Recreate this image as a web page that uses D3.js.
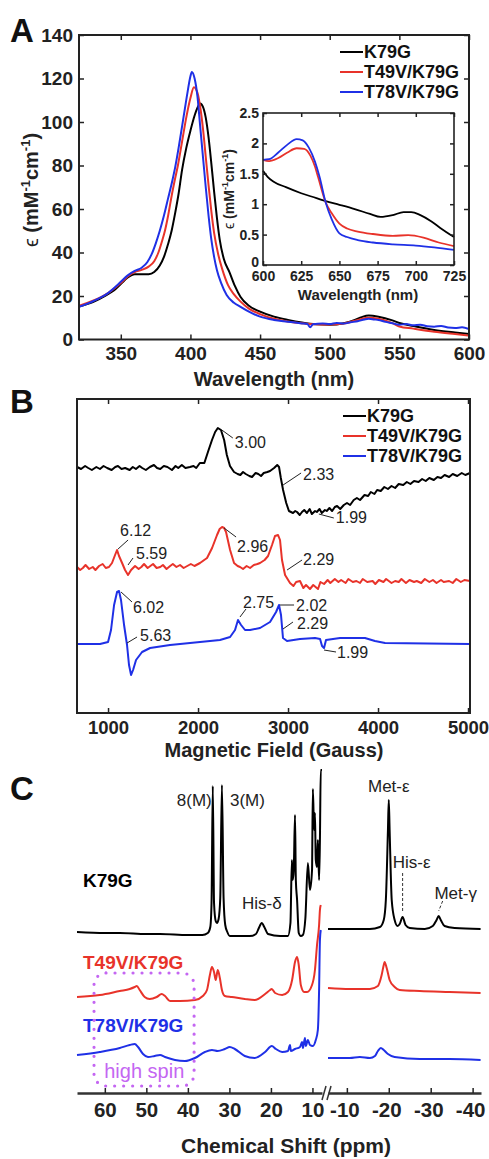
<!DOCTYPE html>
<html>
<head>
<meta charset="utf-8">
<script src="https://cdn.jsdelivr.net/npm/d3@7"></script>
<style>
  body { margin: 0; background: #fff; }
  svg { display: block; font-family: "Liberation Sans", Arial, Helvetica, sans-serif; }
</style>
</head>
<body>
<div id="fig"></div>
<script>
// ---------- A: UV-vis (wavelength nm, epsilon mM-1 cm-1) ----------
const uvK79G = [[320,15.2],[330,17.2],[340,20.5],[345,22.5],[350,25.5],[355,28.5],[360,30],[365,30],[370,30],[374,31],[378,34],[381,38],[384,44],[386.5,50],[389,58],[391.5,67],[394,78],[397,88],[400,96],[403,103],[405,106.5],[407,108.5],[409,107],[411,102],[413,93],[415,81],[417,68],[419,56],[421,46],[424,37],[428,31],[432,24.5],[436,19.5],[442,15.5],[450,12.8],[460,10.5],[470,9],[480,7.8],[490,7],[500,6.8],[510,7.5],[518,9],[523,10.3],[528,11],[535,10.5],[545,8.8],[550,7.6],[560,6.2],[575,4.4],[590,3.2],[600,2.5]];
const uvT49V = [[320,15.5],[330,17.8],[340,21],[350,26],[355,29],[360,31],[365,32],[370,33.5],[374,36],[377,40],[379.5,45],[381.7,50],[384,57],[386.5,66],[389,74],[391,80],[394,91],[397,102],[400,111],[402.5,116],[405,113.5],[407,107],[409,97],[411,84],[413,71],[415,59],[417,49],[420,39],[423,32],[427,25],[431,21],[436,17.4],[442,14.2],[450,11.7],[460,9.5],[470,8.3],[480,7.5],[490,7],[500,6.9],[510,7.3],[520,9],[528,10],[535,9.5],[545,7.5],[550,6],[560,5],[575,3.6],[590,2.5],[600,1.8]];
const uvT78V = [[320,15],[330,17.6],[340,21],[350,26.5],[355,29.5],[360,31.5],[365,33],[369,35.5],[372,39],[375,44],[378,50],[381,57],[384,65],[387,73],[389,79],[392,90],[395,102],[398,114],[400,121],[401,123],[403,120],[405,112],[407,98],[409,84],[411,70],[413,57],[415,46],[417,38],[419,32],[422,26],[426,20.5],[431,17],[436,15],[442,12.8],[450,10.5],[460,9],[470,8.2],[480,7.4],[484,7.1],[486,5.6],[488,7],[495,7.3],[500,7.1],[505,7.6],[510,7.3],[515,7.9],[520,8.4],[525,9.2],[528,9.5],[532,9.2],[535,9],[540,8.1],[545,7.5],[550,6.8],[555,7.1],[560,6.5],[565,6.8],[570,6.1],[575,5.9],[580,6.2],[585,5.5],[590,5.3],[595,5.6],[600,4.8]];
const uvTicksX = [350, 400, 450, 500, 550, 600];
const uvTicksY = [0, 20, 40, 60, 80, 100, 120, 140];

// inset (600-725 nm)
const insK79G = [[600,1.55],[603,1.45],[607,1.37],[615,1.28],[625,1.18],[635,1.1],[641,1.05],[650,0.99],[660,0.92],[670,0.84],[677,0.79],[685,0.82],[692,0.87],[697,0.87],[703,0.82],[710,0.72],[716,0.61],[725,0.46]];
const insT49V = [[600,1.73],[604,1.71],[610,1.76],[616,1.85],[622,1.92],[627,1.91],[631,1.8],[634,1.62],[636,1.45],[641,1.03],[645,0.85],[650,0.68],[655,0.6],[662,0.55],[672,0.51],[685,0.48],[695,0.49],[705,0.45],[715,0.37],[725,0.31]];
const insT78V = [[600,1.73],[604,1.74],[610,1.85],[616,1.98],[622,2.07],[626,2.05],[630,1.93],[634,1.7],[637,1.45],[641,1.03],[645,0.75],[650,0.52],[655,0.46],[662,0.41],[672,0.37],[685,0.34],[700,0.32],[712,0.29],[725,0.25]];
const insTicksX = [600, 625, 650, 675, 700, 725];
const insTicksY = [0, 0.5, 1, 1.5, 2, 2.5];

// ---------- B: EPR (field G, derivative signal a.u., stacked) ----------
const eprOffsets = [246, 146, 69];
const eprK79G = [[656,0],[700,-2],[745,1],[780,-1],[820,-3],[870,0],[910,-2],[950,1],[990,-1],[1040,-3],[1080,0],[1110,1],[1150,-2],[1190,-1],[1240,-3],[1275,0],[1310,-2],[1350,1],[1380,-1],[1420,-3],[1465,0],[1510,2],[1545,-1],[1580,-2],[1620,1],[1660,0],[1710,-3],[1750,1],[1780,-1],[1820,2],[1860,-1],[1910,0],[1950,1],[1980,-1],[2020,4],[2070,4],[2110,15],[2155,27],[2190,35],[2220,39],[2255,37],[2290,27],[2320,12],[2355,1],[2400,-5],[2440,-7],[2470,-8],[2500,-5],[2530,-7],[2570,-9],[2600,-10],[2640,-6],[2670,-7],[2700,-9],[2730,-6],[2770,-5],[2800,-4],[2845,-1],[2880,2],[2900,0],[2920,-11],[2945,-23],[2980,-36],[3010,-44],[3055,-46],[3080,-44],[3100,-45],[3130,-48],[3155,-45],[3180,-43],[3210,-46],[3240,-42],[3265,-47],[3300,-44],[3320,-45],[3350,-42],[3375,-46],[3410,-43],[3430,-44],[3460,-41],[3490,-44],[3520,-40],[3545,-39],[3580,-42],[3620,-38],[3655,-36],[3690,-38],[3730,-33],[3765,-31],[3800,-33],[3850,-28],[3890,-29],[3920,-25],[3960,-27],[3990,-23],[4030,-24],[4070,-20],[4110,-22],[4150,-19],[4190,-21],[4230,-17],[4280,-18],[4320,-15],[4360,-17],[4400,-14],[4450,-15],[4490,-12],[4530,-14],[4570,-11],[4620,-13],[4660,-10],[4700,-11],[4740,-8],[4790,-10],[4830,-7],[4880,-9],[4930,-6],[4970,-8],[5022,-6]];
const eprT49V = [[656,0],[690,-3],[720,-1],[750,2],[790,-2],[830,0],[860,-3],[900,1],[940,3],[975,-1],[1010,0],[1044,4],[1078,12],[1100,17],[1122,11],[1156,4],[1189,-3],[1222,-8],[1256,-3],[1300,1],[1340,-2],[1370,0],[1400,3],[1440,-1],[1470,1],[1500,3],[1540,-1],[1580,0],[1610,2],[1650,-2],[1690,1],[1720,3],[1760,0],[1800,2],[1840,-1],[1880,1],[1920,3],[1960,1],[2022,4],[2100,9],[2156,19],[2211,32],[2240,38],[2267,40],[2290,39],[2311,35],[2356,17],[2400,4],[2440,1],[2467,0],[2500,-2],[2540,1],[2578,-1],[2620,2],[2660,3],[2689,4],[2740,7],[2778,11],[2822,22],[2855,31],[2889,32],[2911,27],[2933,7],[2967,-8],[3022,-16],[3060,-19],[3090,-15],[3133,-14],[3170,-21],[3200,-18],[3244,-22],[3280,-18],[3333,-22],[3360,-15],[3400,-17],[3440,-13],[3470,-16],[3520,-12],[3560,-15],[3590,-13],[3640,-16],[3670,-12],[3720,-15],[3760,-14],[3800,-16],[3830,-12],[3880,-15],[3940,-14],[3970,-17],[4010,-13],[4060,-15],[4090,-12],[4150,-16],[4190,-14],[4230,-15],[4260,-12],[4310,-16],[4350,-13],[4400,-15],[4430,-14],[4480,-16],[4520,-12],[4570,-15],[4610,-13],[4650,-16],[4700,-13],[4730,-15],[4790,-14],[4830,-16],[4870,-12],[4920,-15],[4960,-13],[5022,-14]];
const eprT78V = [[656,0],[911,0],[1000,2],[1033,14],[1067,39],[1100,52],[1122,53],[1144,44],[1178,19],[1211,-1],[1233,-21],[1256,-31],[1278,-26],[1311,-16],[1378,-8],[1467,-4],[1689,-1],[2022,2],[2244,4],[2356,7],[2411,14],[2444,24],[2478,19],[2522,14],[2578,14],[2689,16],[2800,22],[2867,32],[2900,39],[2922,29],[2944,6],[2989,3],[3133,5],[3300,6],[3356,5],[3378,-2],[3400,-4],[3422,4],[3578,6],[3855,6],[3966,3],[4078,1],[5022,0]];
const eprTicksX = [1000, 2000, 3000, 4000, 5000];
// g-value labels: text, trace index, field (G)
const gLabels = [
  ["3.00", 0, 2220], ["2.33", 0, 2945], ["1.99", 0, 3320],
  ["6.12", 1, 1100], ["5.59", 1, 1222], ["2.96", 1, 2267], ["2.29", 1, 2967],
  ["6.02", 2, 1122], ["5.63", 2, 1211], ["2.75", 2, 2444], ["2.02", 2, 2900], ["2.29", 2, 2944], ["1.99", 2, 3400]
];

// ---------- C: 1H NMR (ppm, intensity a.u., stacked) ----------
const nmrOffsets = [160, 96, 38];
const nmrK79GLeft = [[66.7,1],[60,0],[56.4,0],[50,-1],[46.7,-1],[40,-2],[36.5,-2],[35.2,0],[34.6,6],[34.3,30],[34.0,147],[33.7,30],[33.3,12],[33.0,10],[32.6,14],[32.2,35],[31.8,148],[31.4,35],[31.0,8],[30.5,1],[29.9,-3],[25.1,-3],[23.6,-1],[22.9,5],[22.2,10],[21.6,6],[20.7,-1],[17.8,-3],[15.9,-3],[15.3,10],[14.95,73],[14.75,53],[14.5,63],[14.2,118],[14.0,53],[13.7,33],[13.3,0],[12.8,-3],[12.3,-2],[11.7,15],[11.1,70],[10.6,43],[10.1,63],[9.9,144],[9.6,103],[9.4,120],[9.2,73],[8.9,66],[8.7,93],[8.4,53],[8.2,93],[8.0,163],[7.7,163]];
const nmrK79GRight = [[-5.5,4],[-8.3,4],[-15.5,4],[-17.9,6],[-18.8,13],[-19.3,33],[-19.8,103],[-20.0,133],[-20.2,103],[-20.7,33],[-21.4,13],[-22.1,7],[-22.6,9],[-23.3,16],[-24.0,8],[-25.0,5],[-28.6,4],[-30.5,7],[-31.4,13],[-31.9,17],[-32.4,13],[-33.3,7],[-35.7,5],[-41.9,4]];
const nmrT49VLeft = [[66.7,0],[61.2,2],[56.4,6],[54.0,8],[52.8,10],[52.3,11],[51.6,7],[50.4,0],[49.2,-2],[47.5,0],[46.3,3],[45.5,1],[44.3,-4],[41.9,-4],[38.3,-3],[36.4,1],[35.4,7],[34.7,22],[34.2,30],[33.7,25],[33.3,17],[32.8,27],[32.3,19],[31.8,7],[31.1,1],[29.4,0],[26.3,-2],[23.9,-3],[21.4,3],[20.2,7],[19.8,8],[19.0,4],[17.3,2],[15.9,5],[14.9,17],[14.2,35],[13.7,40],[13.3,32],[12.8,12],[12.0,5],[11.3,5],[10.1,12],[9.4,27],[8.9,52],[8.4,72],[8.2,87],[8.0,92]];
const nmrT49VRight = [[-5.5,9],[-10.7,8],[-15.5,8],[-17.4,11],[-18.3,22],[-18.8,32],[-19.0,35],[-19.5,29],[-20.2,17],[-21.4,10],[-22.6,7],[-27.4,6],[-34.5,5],[-41.9,4]];
const nmrT78VLeft = [[66.7,0],[61.2,3],[56.4,7],[54.0,10],[52.8,11],[52.0,8],[50.8,1],[49.6,-2],[48.0,-1],[46.7,0],[45.5,-2],[43.1,-5],[40.7,-6],[38.3,-3],[35.9,3],[34.2,5],[32.8,4],[31.1,6],[29.9,8],[28.7,6],[26.3,-1],[23.9,-3],[21.4,3],[19.8,9],[18.8,6],[17.3,3],[15.9,4],[15.4,10],[15.2,4],[14.2,6],[13.0,8],[12.5,13],[12.3,7],[11.8,17],[11.6,9],[11.1,15],[10.6,10],[9.9,9],[9.2,15],[8.7,25],[8.4,65],[8.2,115],[8.0,125]];
const nmrT78VRight = [[-5.5,-3],[-10.7,-3],[-13.1,-2],[-15.5,-3],[-16.7,-1],[-17.4,4],[-18.1,7],[-18.8,5],[-19.8,1],[-21.4,-2],[-27.4,-4],[-34.5,-4],[-41.9,-5]];
const nmrTicksLeft = [60, 50, 40, 30, 20, 10];
const nmrTicksRight = [-10, -20, -30, -40];
// peak assignments: text, ppm
const nmrPeakLabels = [["8(M)", 34.0], ["3(M)", 31.8], ["His-δ", 22.2], ["Met-ε", -20.0], ["His-ε", -23.3], ["Met-γ", -31.9]];

const names = ["K79G", "T49V/K79G", "T78V/K79G"];
const colors = ["#000000", "#e8332a", "#1f30e6"];
const violet = "#c466f2";
const FONT = "'Liberation Sans', Arial, sans-serif";

const svg = d3.select("#fig").append("svg").attr("width", 489).attr("height", 1159);
svg.append("rect").attr("width", 489).attr("height", 1159).attr("fill", "#fff");
const defs = svg.append("defs");

function styleAxis(g, size) {
  g.attr("font-family", FONT).attr("font-size", size).attr("font-weight", "bold");
  g.selectAll(".tick line").attr("stroke", "#222").attr("stroke-width", 1.5);
  g.selectAll(".tick text").attr("fill", "#222");
}

function epsLabel(parent, x, y, size) {
  const t = parent.append("text")
    .attr("transform", `translate(${x},${y}) rotate(-90)`)
    .attr("text-anchor", "middle").attr("font-size", size).attr("font-weight", "bold").attr("fill", "#222");
  t.append("tspan").attr("font-weight", "normal").text("ϵ");
  t.append("tspan").text(" (mM");
  t.append("tspan").attr("dy", -size * 0.4).attr("font-size", size * 0.65).text("-1");
  t.append("tspan").attr("dy", size * 0.4).text("cm");
  t.append("tspan").attr("dy", -size * 0.4).attr("font-size", size * 0.65).text("-1");
  t.append("tspan").attr("dy", size * 0.4).text(")");
}

function panelLetter(txt, y) {
  svg.append("text").attr("x", 10).attr("y", y).attr("font-size", 33).attr("font-weight", "bold")
    .attr("fill", "#111").text(txt);
}

function legend(x, y0, step, size) {
  const lg = svg.append("g");
  names.forEach((n, i) => {
    lg.append("line").attr("x1", x).attr("x2", x + 23).attr("y1", y0 + i * step).attr("y2", y0 + i * step)
      .attr("stroke", colors[i]).attr("stroke-width", 2);
    lg.append("text").attr("x", x + 24).attr("y", y0 + i * step).attr("dy", "0.36em")
      .attr("font-size", size).attr("font-weight", "bold").attr("fill", "#111").text(n);
  });
}

// ================= Panel A =================
const xA = d3.scaleLinear().domain([320, 600]).range([79, 469]);
const yA = d3.scaleLinear().domain([0, 140]).range([339.5, 35]);
defs.append("clipPath").attr("id", "clipA").append("rect")
  .attr("x", 79).attr("y", 35).attr("width", 390).attr("height", 304.5);

const lineA = d3.line().x(d => xA(d[0])).y(d => yA(d[1])).curve(d3.curveMonotoneX);
const gA = svg.append("g");
gA.append("g").attr("clip-path", "url(#clipA)").selectAll("path")
  .data([uvK79G, uvT49V, uvT78V])
  .join("path").attr("d", lineA).attr("fill", "none")
  .attr("stroke", (d, i) => colors[i]).attr("stroke-width", 2);

gA.append("g").attr("transform", `translate(0,${yA(0)})`)
  .call(d3.axisBottom(xA).tickValues(uvTicksX).tickSizeInner(-5).tickSizeOuter(0).tickPadding(7))
  .call(g => g.select(".domain").remove()).call(g => styleAxis(g, 19));
gA.append("g").attr("transform", `translate(0,${yA(140)})`)
  .call(d3.axisTop(xA).tickValues(uvTicksX).tickSizeInner(-5).tickSizeOuter(0).tickFormat(""))
  .call(g => g.select(".domain").remove()).call(g => styleAxis(g, 19));
gA.append("g").attr("transform", `translate(${xA(320)},0)`)
  .call(d3.axisLeft(yA).tickValues(uvTicksY).tickSizeInner(-5).tickSizeOuter(0).tickPadding(6))
  .call(g => g.select(".domain").remove()).call(g => styleAxis(g, 19));
gA.append("g").attr("transform", `translate(${xA(600)},0)`)
  .call(d3.axisRight(yA).tickValues(uvTicksY).tickSizeInner(-5).tickSizeOuter(0).tickFormat(""))
  .call(g => g.select(".domain").remove()).call(g => styleAxis(g, 19));
gA.append("rect").attr("x", xA(320)).attr("y", yA(140)).attr("width", xA(600) - xA(320))
  .attr("height", yA(0) - yA(140)).attr("fill", "none").attr("stroke", "#222").attr("stroke-width", 2);

gA.append("text").attr("x", 274).attr("y", 386).attr("text-anchor", "middle")
  .attr("font-size", 20).attr("font-weight", "bold").attr("fill", "#222").text("Wavelength (nm)");
epsLabel(gA, 38, 190, 20);
legend(340, 52, 20, 18);
panelLetter("A", 42);

// inset
const xI = d3.scaleLinear().domain([600, 725]).range([263, 454]);
const yI = d3.scaleLinear().domain([0, 2.5]).range([265, 113]);
const gI = svg.append("g");
gI.append("rect").attr("x", 263).attr("y", 113).attr("width", 191).attr("height", 152).attr("fill", "#fff");
const lineI = d3.line().x(d => xI(d[0])).y(d => yI(d[1])).curve(d3.curveMonotoneX);
gI.selectAll("path.ins").data([insK79G, insT49V, insT78V]).join("path").attr("class", "ins")
  .attr("d", lineI).attr("fill", "none").attr("stroke", (d, i) => colors[i]).attr("stroke-width", 1.8);
gI.append("g").attr("transform", `translate(0,${yI(0)})`)
  .call(d3.axisBottom(xI).tickValues(insTicksX).tickSizeInner(-4).tickSizeOuter(0).tickPadding(6))
  .call(g => g.select(".domain").remove()).call(g => styleAxis(g, 14));
gI.append("g").attr("transform", `translate(0,${yI(2.5)})`)
  .call(d3.axisTop(xI).tickValues(insTicksX).tickSizeInner(-4).tickSizeOuter(0).tickFormat(""))
  .call(g => g.select(".domain").remove()).call(g => styleAxis(g, 14));
gI.append("g").attr("transform", `translate(${xI(600)},0)`)
  .call(d3.axisLeft(yI).tickValues(insTicksY).tickSizeInner(-4).tickSizeOuter(0).tickPadding(4).tickFormat(d3.format("")))
  .call(g => g.select(".domain").remove()).call(g => styleAxis(g, 14))
  .call(g => g.selectAll(".tick text").filter(d => d === 0).attr("dy", "0.1em"));
gI.append("g").attr("transform", `translate(${xI(725)},0)`)
  .call(d3.axisRight(yI).tickValues(insTicksY).tickSizeInner(-4).tickSizeOuter(0).tickFormat(""))
  .call(g => g.select(".domain").remove()).call(g => styleAxis(g, 14));
gI.append("rect").attr("x", 263).attr("y", 113).attr("width", 191).attr("height", 152)
  .attr("fill", "none").attr("stroke", "#222").attr("stroke-width", 1.6);
gI.append("text").attr("x", 358).attr("y", 300).attr("text-anchor", "middle")
  .attr("font-size", 15).attr("font-weight", "bold").attr("fill", "#222").text("Wavelength (nm)");
epsLabel(gI, 234, 189, 14);

// ================= Panel B =================
const xB = d3.scaleLinear().domain([655, 5022]).range([77, 470]);
const yB = d3.scaleLinear().domain([0, 314]).range([713, 399]);
const eprData = [eprK79G, eprT49V, eprT78V];
const gB = svg.append("g");
gB.selectAll("path.epr").data(eprData).join("path").attr("class", "epr")
  .attr("d", (d, i) => d3.line().x(p => xB(p[0])).y(p => yB(eprOffsets[i] + p[1])).curve(d3.curveLinear)(d))
  .attr("fill", "none").attr("stroke", (d, i) => colors[i]).attr("stroke-width", 2).attr("stroke-linejoin", "round");

gB.append("g").attr("transform", `translate(0,${yB(0)})`)
  .call(d3.axisBottom(xB).tickValues(eprTicksX).tickSizeInner(-5).tickSizeOuter(0).tickPadding(8).tickFormat(d3.format("d")))
  .call(g => g.select(".domain").remove()).call(g => styleAxis(g, 18.5));
gB.append("g").attr("transform", `translate(0,${yB(314)})`)
  .call(d3.axisTop(xB).tickValues(eprTicksX).tickSizeInner(-5).tickSizeOuter(0).tickFormat(""))
  .call(g => g.select(".domain").remove()).call(g => styleAxis(g, 19));
gB.append("rect").attr("x", 77).attr("y", 399).attr("width", 393).attr("height", 314)
  .attr("fill", "none").attr("stroke", "#222").attr("stroke-width", 2);
gB.append("text").attr("x", 274).attr("y", 757).attr("text-anchor", "middle")
  .attr("font-size", 20).attr("font-weight", "bold").attr("fill", "#222").text("Magnetic Field (Gauss)");

// g-value annotations: leader offsets [x1,y1,x2,y2] and text offset [tx,ty] (px from the marked point)
const gLabelLayout = [
  [4, 2, 15, 10, 17, 14], [0, -5, 18, -17, 20, -16], [2, 2, 17, 6, 19, 5],
  [1, -1, 11, -10, 3, -20], [0, -10, 5, -17, 8, -22], [2, 1, 14, 10, 15, 19], [2, -5, 17, -15, 18, -16],
  [2, 1, 13, 11, 14, 16], [0, -2, 10, -8, 13, -10], [2, -3, 8, -11, 5, -18], [1, 0, 15, 0, 17, 0],
  [0, -9, 10, -16, 14, -15], [0, 2, 12, 4, 13, 4]
];
function eprAt(i, f) {
  const d = eprData[i];
  const k = d3.bisector(p => p[0]).left(d, f);
  const a = d[Math.max(0, k - 1)], b = d[Math.min(d.length - 1, k)];
  const t = b[0] === a[0] ? 0 : (f - a[0]) / (b[0] - a[0]);
  return eprOffsets[i] + a[1] + t * (b[1] - a[1]);
}
gLabels.forEach(([txt, i, f], j) => {
  const px = xB(f), py = yB(eprAt(i, f));
  const L = gLabelLayout[j];
  gB.append("line").attr("x1", px + L[0]).attr("y1", py + L[1]).attr("x2", px + L[2]).attr("y2", py + L[3])
    .attr("stroke", "#222").attr("stroke-width", 1);
  gB.append("text").attr("x", px + L[4]).attr("y", py + L[5]).attr("dy", "0.36em")
    .attr("font-size", 16).attr("fill", "#222").text(txt);
});
legend(343, 416, 20, 18);
panelLetter("B", 413);

// ================= Panel C =================
const xCL = d3.scaleLinear().domain([66.7, 7.7]).range([77, 322]);
const xCR = d3.scaleLinear().domain([-5.5, -42]).range([328, 481]);
const yC = d3.scaleLinear().domain([0, 323]).range([1093, 770]);
const gC = svg.append("g");
const nmrLeft = [nmrK79GLeft, nmrT49VLeft, nmrT78VLeft];
const nmrRight = [nmrK79GRight, nmrT49VRight, nmrT78VRight];
[0, 1, 2].forEach(i => {
  const off = nmrOffsets[i];
  gC.append("path").datum(nmrLeft[i])
    .attr("d", d3.line().x(p => xCL(p[0])).y(p => yC(off + p[1])).curve(d3.curveMonotoneX))
    .attr("fill", "none").attr("stroke", colors[i]).attr("stroke-width", 2);
  gC.append("path").datum(nmrRight[i])
    .attr("d", d3.line().x(p => xCR(p[0])).y(p => yC(off + p[1])).curve(d3.curveMonotoneX))
    .attr("fill", "none").attr("stroke", colors[i]).attr("stroke-width", 2);
});

const plainFmt = d => String(d);
gC.append("g").attr("transform", `translate(0,${yC(0)})`)
  .call(d3.axisBottom(xCL).tickValues(nmrTicksLeft).tickSizeInner(-5).tickSizeOuter(0).tickPadding(9).tickFormat(plainFmt))
  .call(g => g.select(".domain").attr("stroke", "#333").attr("stroke-width", 2.5)).call(g => styleAxis(g, 20.5));
gC.append("g").attr("transform", `translate(0,${yC(0)})`)
  .call(d3.axisBottom(xCR).tickValues(nmrTicksRight).tickSizeInner(-5).tickSizeOuter(0).tickPadding(9).tickFormat(plainFmt))
  .call(g => g.select(".domain").attr("stroke", "#333").attr("stroke-width", 2.5)).call(g => styleAxis(g, 20.5))
  .call(g => g.selectAll(".tick text").attr("dx", "-0.12em"));
// axis break marks
const bx = xCL.range()[1], by = yC(0);
[0, 5].forEach(dx => {
  gC.append("line").attr("x1", bx + dx).attr("y1", by + 7).attr("x2", bx + dx + 4).attr("y2", by - 7)
    .attr("stroke", "#333").attr("stroke-width", 1.5);
});
gC.append("text").attr("x", 286).attr("y", 1153).attr("text-anchor", "middle")
  .attr("font-size", 21).attr("font-weight", "bold").attr("fill", "#222").text("Chemical Shift (ppm)");

// peak assignment labels
const pkLayout = {
  "8(M)": {x: xCL(34.0) - 1, y: 800, anchor: "end"},
  "3(M)": {x: xCL(31.8) + 8, y: 800, anchor: "start"},
  "His-δ": {x: xCL(22.2), y: 903, anchor: "middle"},
  "Met-ε": {x: xCR(-20.0), y: 786, anchor: "middle"},
  "His-ε": {x: xCR(-23.3) + 9, y: 862, anchor: "middle"},
  "Met-γ": {x: xCR(-31.9) + 17, y: 893, anchor: "middle"}
};
nmrPeakLabels.forEach(([txt]) => {
  const L = pkLayout[txt];
  gC.append("text").attr("x", L.x).attr("y", L.y).attr("dy", "0.36em").attr("text-anchor", L.anchor)
    .attr("font-size", 17).attr("fill", "#222").text(txt);
});
gC.append("line").attr("x1", xCR(-23.3)).attr("x2", xCR(-23.3)).attr("y1", 873).attr("y2", 912)
  .attr("stroke", "#333").attr("stroke-width", 1).attr("stroke-dasharray", "3,2");
gC.append("line").attr("x1", xCR(-31.9) + 4).attr("x2", xCR(-31.9)).attr("y1", 901).attr("y2", 911)
  .attr("stroke", "#333").attr("stroke-width", 1).attr("stroke-dasharray", "3,2");

// sample names
const nameY = [880, 962, 1025];
names.forEach((n, i) => {
  gC.append("text").attr("x", 83).attr("y", nameY[i]).attr("dy", "0.36em")
    .attr("font-size", 19).attr("font-weight", "bold").attr("fill", colors[i]).text(n);
});

// high spin box
gC.append("rect").attr("x", xCL(62.6)).attr("y", 973).attr("width", xCL(38.5) - xCL(62.6)).attr("height", 113)
  .attr("rx", 12).attr("fill", "none").attr("stroke", violet).attr("stroke-width", 3.2)
  .attr("stroke-linecap", "round").attr("stroke-dasharray", "0,9");
gC.append("text").attr("x", xCL(50.5)).attr("y", 1071).attr("dy", "0.36em").attr("text-anchor", "middle")
  .attr("font-size", 20).attr("fill", violet).text("high spin");

panelLetter("C", 800);
</script>
</body>
</html>
